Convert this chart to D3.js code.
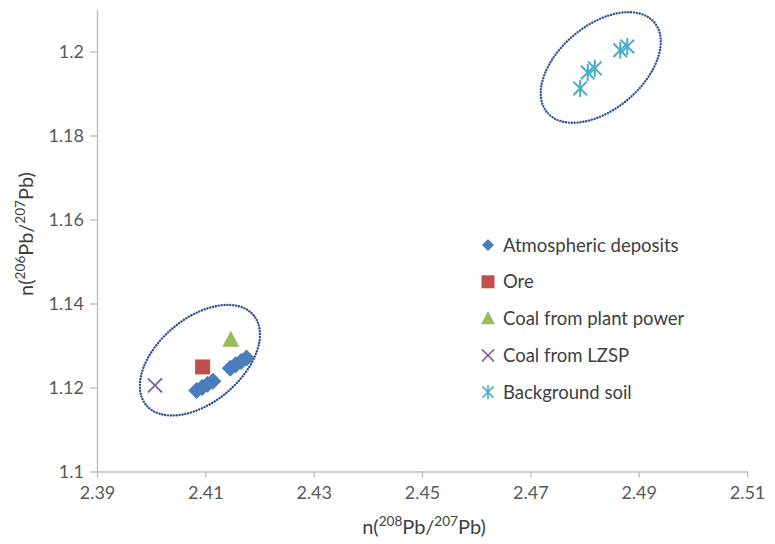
<!DOCTYPE html>
<html>
<head>
<meta charset="utf-8">
<script src="https://d3js.org/d3.v7.min.js"></script>
<style>
  body { margin: 0; background: #fff; }
  #chart { width: 775px; height: 544px; }
  text { font-family: Lato, "Open Sans", sans-serif; }
</style>
</head>
<body>
<div id="chart"></div>
<script>
"use strict";

// Pb isotope ratios. x = 208Pb/207Pb, y = 206Pb/207Pb
var atmosphericX = [2.4084, 2.4094, 2.4104, 2.4114, 2.4146, 2.4156, 2.4166, 2.4176];
var atmosphericY = [1.1193, 1.1200, 1.1208, 1.1215, 1.1246, 1.1254, 1.1262, 1.1270];
var oreX = [2.4095];
var oreY = [1.1249];
var plantCoalX = [2.4147];
var plantCoalY = [1.1313];
var lzspCoalX = [2.4007];
var lzspCoalY = [1.1205];
var soilX = [2.4792, 2.4806, 2.4819, 2.4866, 2.4879];
var soilY = [1.1912, 1.1950, 1.1960, 1.2003, 1.2012];

// groups ringed with a dotted ellipse (centres)
var clusterX = [2.4090, 2.4830];
var clusterY = [1.1265, 1.1962];

var xTicks = [2.39, 2.41, 2.43, 2.45, 2.47, 2.49, 2.51];
var yTicks = [1.1, 1.12, 1.14, 1.16, 1.18, 1.2];
var seriesNames = ["Atmospheric deposits", "Ore", "Coal from plant power", "Coal from LZSP", "Background soil"];

var margins = {top: 9.5, right: 28, bottom: 72.5, left: 97};
var width = 775 - margins.left - margins.right;
var height = 544 - margins.top - margins.bottom;

var axisColor = "#bfbfbf";
var textColor = "#595959";

var svg = d3.select("#chart").append("svg")
    .attr("width", 775)
    .attr("height", 544);
var chart = svg.append("g")
    .attr("transform", "translate(" + margins.left + "," + margins.top + ")");

var xScale = d3.scaleLinear().domain([2.39, 2.51]).range([0, width]);
var yScale = d3.scaleLinear().domain([1.1, 1.21]).range([height, 0]);

var xAxis = d3.axisBottom(xScale).tickValues(xTicks).tickFormat(String)
    .tickSizeInner(6).tickSizeOuter(0).tickPadding(9);
var yAxis = d3.axisLeft(yScale).tickValues(yTicks).tickFormat(String)
    .tickSizeInner(7).tickSizeOuter(0).tickPadding(6);

var xAxisSVG = chart.append("g").attr("class", "x axis")
    .attr("transform", "translate(0," + height + ")")
    .call(xAxis);
var yAxisSVG = chart.append("g").attr("class", "y axis")
    .call(yAxis);

[xAxisSVG, yAxisSVG].forEach(function(a) {
  a.selectAll("path").attr("stroke", axisColor).attr("stroke-width", 1.4);
  a.selectAll("line").attr("stroke", axisColor).attr("stroke-width", 1.4);
  a.selectAll("text").attr("fill", textColor).attr("font-size", 18);
});

// axis titles with superscript mass numbers
function isotopeLabel(sel, top) {
  sel.append("tspan").text("n(");
  sel.append("tspan").attr("dy", -8).attr("font-size", "0.68em").text(top);
  sel.append("tspan").attr("dy", 8).text("Pb/");
  sel.append("tspan").attr("dy", -8).attr("font-size", "0.68em").text("207");
  sel.append("tspan").attr("dy", 8).text("Pb)");
}

svg.append("text")
    .attr("x", 424).attr("y", 534)
    .attr("text-anchor", "middle")
    .attr("fill", "#404040").attr("font-size", 20)
    .call(isotopeLabel, "208");

svg.append("text")
    .attr("transform", "translate(33,234) rotate(-90)")
    .attr("text-anchor", "middle")
    .attr("fill", "#404040").attr("font-size", 20)
    .call(isotopeLabel, "206");

// dotted ellipses round the two groups
var ellipseA = 70, ellipseB = 42, ellipseAngle = -40;
chart.selectAll(".cluster")
    .data(d3.range(clusterX.length))
  .enter().append("ellipse")
    .attr("class", "cluster")
    .attr("transform", function(i) {
      return "translate(" + xScale(clusterX[i]) + "," + yScale(clusterY[i]) + ") rotate(" + ellipseAngle + ")";
    })
    .attr("rx", ellipseA).attr("ry", ellipseB)
    .attr("fill", "none")
    .attr("stroke", "#2f5196")
    .attr("stroke-width", 2.4)
    .attr("stroke-linecap", "round")
    .attr("stroke-dasharray", "0.1 2.8");

function zip(xs, ys) {
  return xs.map(function(x, i) { return {x: x, y: ys[i]}; });
}

// marker shapes, drawn around 0,0
function diamond(r) { return "M0," + (-r) + "L" + r + ",0L0," + r + "L" + (-r) + ",0Z"; }
function square(r) { return "M" + (-r) + "," + (-r) + "h" + (2 * r) + "v" + (2 * r) + "h" + (-2 * r) + "Z"; }
function triangle(r) { return "M0," + (-r * 1.1) + "L" + r + "," + (r * 0.8) + "L" + (-r) + "," + (r * 0.8) + "Z"; }
function cross(r) { return "M" + (-r) + "," + (-r) + "L" + r + "," + r + "M" + (-r) + "," + r + "L" + r + "," + (-r); }
function star(r) { return cross(r * 0.8) + "M0," + (-r) + "L0," + r; }

var series = [
  {name: seriesNames[0], pts: zip(atmosphericX, atmosphericY), shape: diamond, size: 8.5, legendSize: 6, fill: "#4a7ebb", stroke: "none"},
  {name: seriesNames[1], pts: zip(oreX, oreY), shape: square, size: 7.5, legendSize: 6.5, fill: "#c0504d", stroke: "none"},
  {name: seriesNames[2], pts: zip(plantCoalX, plantCoalY), shape: triangle, size: 8.5, legendSize: 7, fill: "#9bbb59", stroke: "none"},
  {name: seriesNames[3], pts: zip(lzspCoalX, lzspCoalY), shape: cross, size: 7, legendSize: 6, fill: "none", stroke: "#8064a2"},
  {name: seriesNames[4], pts: zip(soilX, soilY), shape: star, size: 8.5, legendSize: 7, fill: "none", stroke: "#4bacc6"}
];

series.forEach(function(s) {
  chart.append("g").attr("class", "series")
    .selectAll("path")
      .data(s.pts)
    .enter().append("path")
      .attr("transform", function(d) { return "translate(" + xScale(d.x) + "," + yScale(d.y) + ")"; })
      .attr("d", s.shape(s.size))
      .attr("fill", s.fill)
      .attr("stroke", s.stroke)
      .attr("stroke-width", 2);
});

// legend
var legend = svg.append("g").attr("transform", "translate(488,245)");
var rows = legend.selectAll(".row")
    .data(series)
  .enter().append("g")
    .attr("class", "row")
    .attr("transform", function(d, i) { return "translate(0," + (i * 36.8) + ")"; });
rows.append("path")
    .attr("d", function(d) { return d.shape(d.legendSize); })
    .attr("fill", function(d) { return d.fill; })
    .attr("stroke", function(d) { return d.stroke; })
    .attr("stroke-width", 1.6);
rows.append("text")
    .attr("x", 15).attr("y", 6.5)
    .attr("fill", "#404040").attr("font-size", 18.5)
    .text(function(d) { return d.name; });
</script>
</body>
</html>
